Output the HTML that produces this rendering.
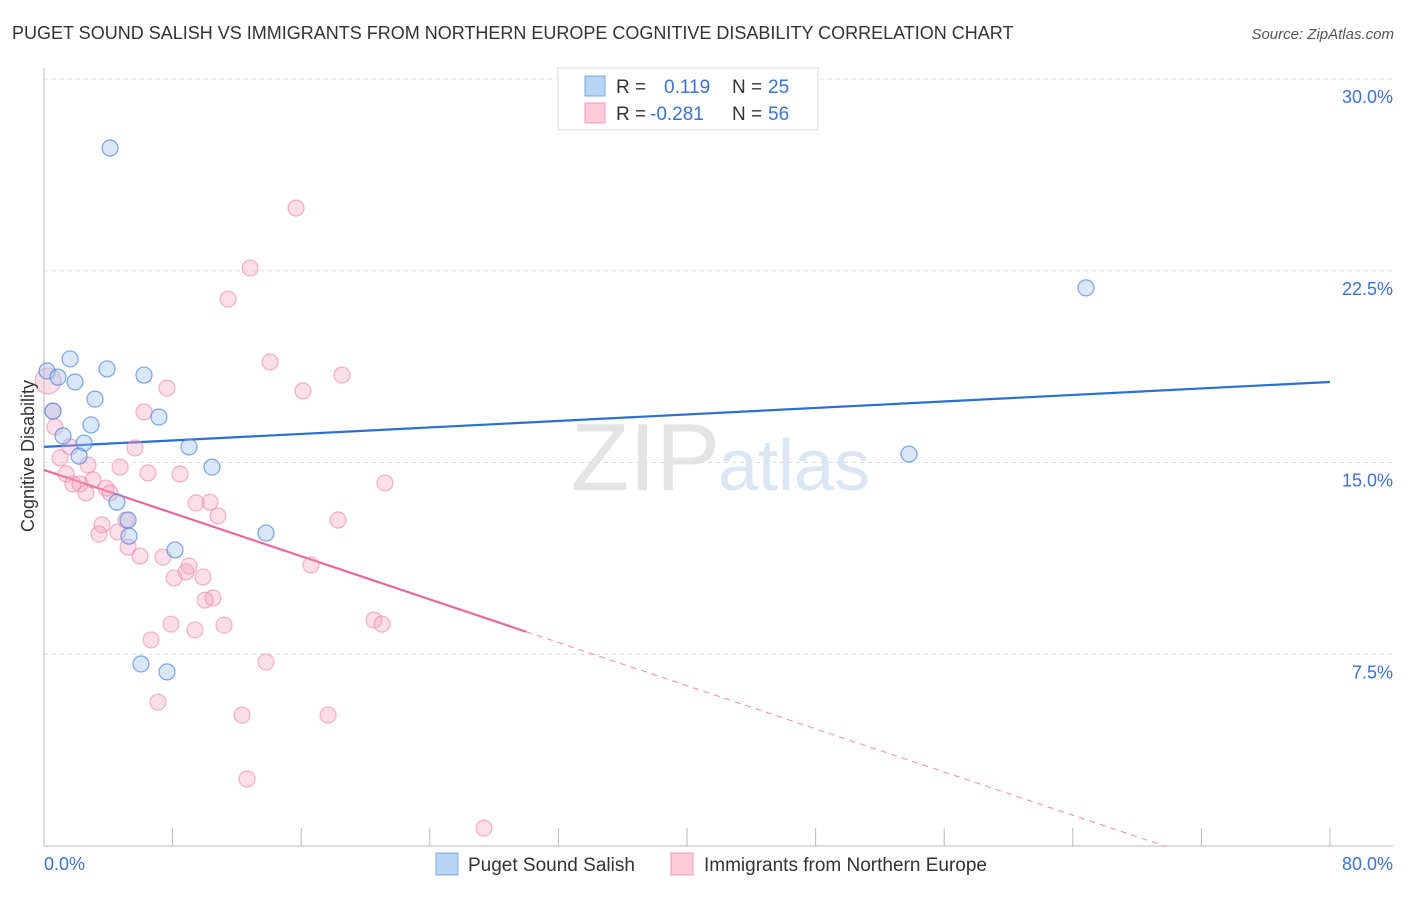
<!DOCTYPE html>
<html><head><meta charset="utf-8"><style>
body{margin:0;background:#fff;font-family:"Liberation Sans",sans-serif;}
svg text{font-family:"Liberation Sans",sans-serif;}
</style></head><body>
<svg id="chart" width="1406" height="892">
<text x="12" y="39" font-size="18" fill="#333">PUGET SOUND SALISH VS IMMIGRANTS FROM NORTHERN EUROPE COGNITIVE DISABILITY CORRELATION CHART</text>
<text x="1394" y="39" font-size="15" fill="#555" font-style="italic" text-anchor="end">Source: ZipAtlas.com</text>
<text x="720" y="490" font-size="96" fill="#e4e4e4" text-anchor="end" font-family="Liberation Serif">ZIP</text>
<text x="718" y="490" font-size="72" fill="#dbe6f4">atlas</text>
<g id="grid"></g><g id="axes"></g><g id="lines"></g><g id="points"></g>
<text transform="translate(34,456) rotate(-90)" font-size="18" fill="#333" text-anchor="middle">Cognitive Disability</text>
<g>
<rect x="558" y="68" width="260" height="62" fill="#fff" stroke="#ddd"/>
<rect x="585" y="76" width="20" height="20" fill="#b9d3f5" stroke="#7aa7e3"/>
<rect x="585" y="103" width="20" height="20" fill="#fbcad9" stroke="#ef9ab5"/>
<text x="616" y="93" font-size="19" fill="#333">R = </text><text x="664" y="93" font-size="19" fill="#3a72d8">0.119</text>
<text x="732" y="93" font-size="19" fill="#333">N = </text><text x="768" y="93" font-size="19" fill="#3a72d8">25</text>
<text x="616" y="120" font-size="19" fill="#333">R = </text><text x="650" y="120" font-size="19" fill="#3a72d8">-0.281</text>
<text x="732" y="120" font-size="19" fill="#333">N = </text><text x="768" y="120" font-size="19" fill="#3a72d8">56</text>
</g>
<g>
<rect x="436" y="853" width="22" height="22" fill="#b9d3f5" stroke="#7aa7e3"/>
<text x="468" y="871" font-size="19" fill="#333">Puget Sound Salish</text>
<rect x="671" y="853" width="22" height="22" fill="#fbcad9" stroke="#ef9ab5"/>
<text x="704" y="871" font-size="19" fill="#333">Immigrants from Northern Europe</text>
</g>
</svg>
<script>
const yTicks=[30,22.5,15,7.5];
const yTickLabels=["30.0%","22.5%","15.0%","7.5%"];
const xTickLabels=["0.0%","80.0%"];
const blueX=[4.11,64.82,1.62,0.19,3.92,6.22,0.87,1.93,3.17,7.15,2.92,1.18,2.49,9.02,2.18,10.45,4.54,5.23,5.29,13.81,8.15,53.81,6.03,7.65,0.56];
const blueY=[27.30,21.83,19.05,18.58,18.66,18.42,18.34,18.15,17.48,16.78,16.47,16.04,15.76,15.61,15.25,14.82,13.45,12.75,12.12,12.24,11.58,15.33,7.12,6.81,17.01];
const pinkX=[15.68,12.82,11.45,14.06,18.54,16.11,7.65,0.25,0.56,0.68,6.22,5.66,2.74,4.73,6.47,8.46,1.00,1.37,1.80,2.24,3.05,2.61,3.86,4.11,21.21,9.46,10.33,10.82,18.29,5.10,3.61,3.42,4.60,5.23,5.97,7.40,16.61,9.02,8.83,8.09,9.89,10.02,10.51,7.90,9.39,11.20,6.66,20.53,21.03,13.81,7.09,12.32,17.67,12.63,27.37,1.62];
const pinkY=[24.95,22.61,21.39,18.93,18.42,17.80,17.91,18.19,17.01,16.39,16.98,15.57,14.90,14.82,14.59,14.55,15.18,14.55,14.16,14.16,14.32,13.81,14.00,13.81,14.20,13.42,13.45,12.91,12.75,12.75,12.56,12.20,12.28,11.69,11.34,11.30,10.99,10.95,10.72,10.48,10.52,9.62,9.70,8.68,8.45,8.64,8.06,8.84,8.68,7.20,5.63,5.12,5.12,2.62,0.70,15.61];
const blueTrend=[15.61,18.15];   // y at x=0 and x=80
const pinkTrend=[14.71,-0.211];  // intercept, slope
const pinkSolidEnd=30;
const NS="http://www.w3.org/2000/svg";
const X=v=>44+v/80*1286, Y=v=>846-v/30*767;
function mk(t,a,p){const e=document.createElementNS(NS,t);for(const k in a)e.setAttribute(k,a[k]);document.getElementById(p).appendChild(e);return e;}
yTicks.forEach((t,i)=>{
 const g=mk('line',{x1:44,x2:1393,y1:Y(t),y2:Y(t),stroke:'#ddd','stroke-dasharray':'4,4'},'grid');
 
 
 const l=mk('text',{x:1393,y:Y(t)+24,'font-size':18,fill:'#3a72d8','text-anchor':'end'},'axes');
 l.textContent=yTickLabels[i];
 
 
});
const xa=mk('line',{x1:44,x2:1393,y1:846,y2:846,stroke:'#bbb'},'axes');


const ya=mk('line',{x1:44,x2:44,y1:68,y2:846,stroke:'#bbb'},'axes');


for(let i=1;i<=10;i++){
 const t=mk('line',{x1:X(i*8),x2:X(i*8),y1:828,y2:846,stroke:'#bbb'},'axes');
 
 
}
[[0,'start',44],[80,'end',1393]].forEach((d,i)=>{
 const l=mk('text',{x:d[2],y:870,'font-size':18,fill:'#3a72d8','text-anchor':d[1]},'axes');
 l.textContent=xTickLabels[i];
 
 
});
for(let i=0;i<pinkX.length;i++){
 const c=mk('circle',{cx:X(pinkX[i]),cy:Y(pinkY[i]),r:i==7?13:8,fill:'rgba(244,160,188,0.35)',stroke:'rgba(236,130,165,0.6)','stroke-width':1.2},'points');
 
 
}
for(let i=0;i<blueX.length;i++){
 const c=mk('circle',{cx:X(blueX[i]),cy:Y(blueY[i]),r:8,fill:'rgba(160,196,240,0.4)',stroke:'rgba(70,130,220,0.7)','stroke-width':1.2},'points');
 
 
}
const bl=mk('line',{x1:X(0),y1:Y(blueTrend[0]),x2:X(80),y2:Y(blueTrend[1]),stroke:'#2a6fd6','stroke-width':2.2},'lines');


const pf=x=>pinkTrend[0]+pinkTrend[1]*x, zero=-pinkTrend[0]/pinkTrend[1];
const pl=mk('line',{x1:X(0),y1:Y(pf(0)),x2:X(pinkSolidEnd),y2:Y(pf(pinkSolidEnd)),stroke:'#e8679a','stroke-width':2.2},'lines');


const pd=mk('line',{x1:X(pinkSolidEnd),y1:Y(pf(pinkSolidEnd)),x2:X(zero),y2:Y(0),stroke:'#eb8fb0','stroke-width':1,'stroke-dasharray':'6,5'},'lines');


</script>
</body></html>
